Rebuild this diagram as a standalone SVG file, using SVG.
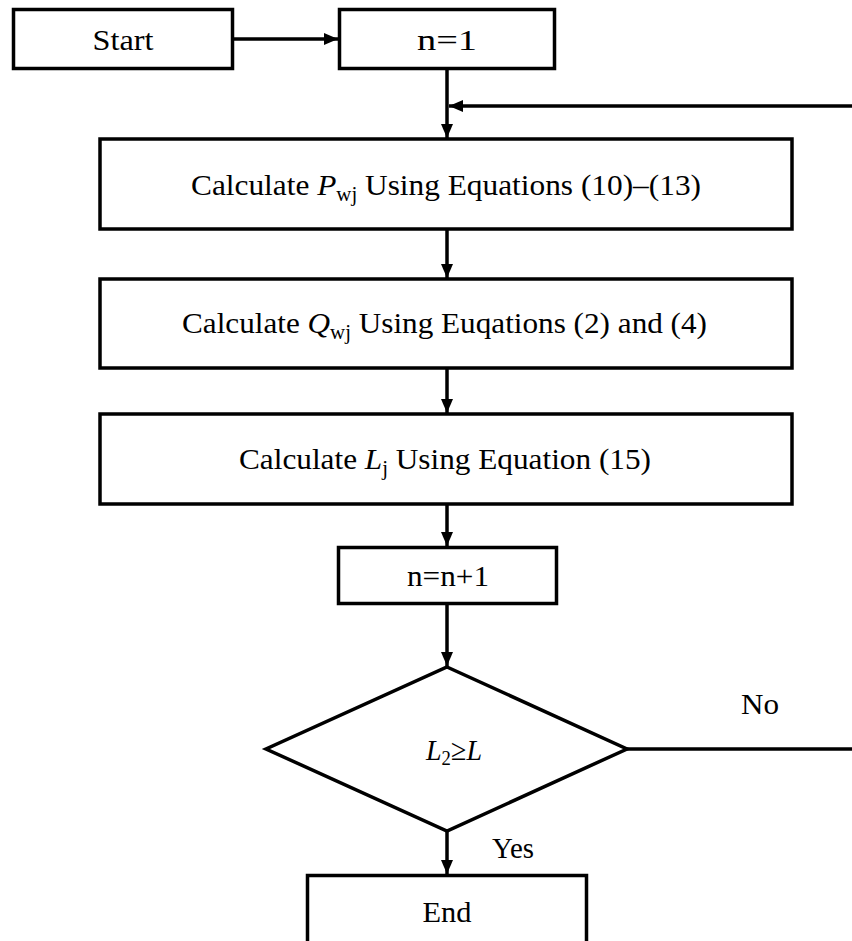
<svg xmlns="http://www.w3.org/2000/svg" width="852" height="941" viewBox="0 0 852 941">
<style>
  .box { fill: #fff; stroke: #000; stroke-width: 3.5; }
  .t { font-family: "Liberation Serif", "DejaVu Serif", serif; font-size: 30px; fill: #000; }
  .i { font-style: italic; }
  .sub { font-size: 20px; }
  .c { fill: none; stroke: #000; stroke-width: 3.5; }
</style>
<defs>
  <marker id="ah" markerUnits="userSpaceOnUse" markerWidth="15" markerHeight="14" refX="14" refY="7" orient="auto">
    <path d="M0,1 L14,7 L0,13 z" fill="#000"/>
  </marker>
</defs>
<rect width="852" height="941" fill="#fff"/>
<g id="connectors">
  <line class="c" x1="234" y1="39" x2="338" y2="39" marker-end="url(#ah)"/>
  <line class="c" x1="447" y1="69" x2="447" y2="138" marker-end="url(#ah)"/>
  <line class="c" x1="852" y1="106" x2="449" y2="106" marker-end="url(#ah)"/>
  <line class="c" x1="447" y1="229" x2="447" y2="278" marker-end="url(#ah)"/>
  <line class="c" x1="447" y1="368" x2="447" y2="413" marker-end="url(#ah)"/>
  <line class="c" x1="447" y1="504" x2="447" y2="546" marker-end="url(#ah)"/>
  <line class="c" x1="447" y1="603" x2="447" y2="666" marker-end="url(#ah)"/>
  <line class="c" x1="447" y1="831" x2="447" y2="874" marker-end="url(#ah)"/>
  <line class="c" x1="627" y1="749" x2="852" y2="749"/>
  <text class="t" x="741" y="714" textLength="38" lengthAdjust="spacingAndGlyphs">No</text>
  <text class="t" x="492" y="858" textLength="42" lengthAdjust="spacingAndGlyphs">Yes</text>
</g>
<g id="start">
  <rect class="box" x="13.5" y="9.5" width="219" height="59"/>
  <text class="t" x="123" y="50" text-anchor="middle" textLength="61" lengthAdjust="spacingAndGlyphs">Start</text>
</g>
<g id="init">
  <rect class="box" x="339.5" y="9.5" width="215" height="59"/>
  <text class="t" x="447" y="50" text-anchor="middle" textLength="60" lengthAdjust="spacingAndGlyphs">n=1</text>
</g>
<g id="calcP">
  <rect class="box" x="100" y="139" width="692" height="90"/>
  <text class="t" x="446" y="195" text-anchor="middle" textLength="510" lengthAdjust="spacingAndGlyphs">Calculate <tspan class="i">P</tspan><tspan class="sub" dy="6">wj</tspan><tspan dy="-6"> Using Equations (10)–(13)</tspan></text>
</g>
<g id="calcQ">
  <rect class="box" x="100" y="279" width="692" height="89"/>
  <text class="t" x="444.5" y="333" text-anchor="middle" textLength="525" lengthAdjust="spacingAndGlyphs">Calculate  <tspan class="i">Q</tspan><tspan class="sub" dy="6">wj</tspan><tspan dy="-6"> Using Euqations  (2) and (4)</tspan></text>
</g>
<g id="calcL">
  <rect class="box" x="100" y="414" width="692" height="90"/>
  <text class="t" x="445" y="469" text-anchor="middle" textLength="412" lengthAdjust="spacingAndGlyphs">Calculate <tspan class="i">L</tspan><tspan class="sub" dy="6">j</tspan><tspan dy="-6"> Using Equation (15)</tspan></text>
</g>
<g id="increment">
  <rect class="box" x="338.5" y="547.5" width="218" height="56"/>
  <text class="t" x="448" y="586" text-anchor="middle" textLength="82" lengthAdjust="spacingAndGlyphs">n=n+1</text>
</g>
<g id="decision">
  <polygon class="box" points="447,667 627,749 447,831 266,749"/>
  <text class="t" x="454" y="760" text-anchor="middle" font-size="28" textLength="56" lengthAdjust="spacingAndGlyphs"><tspan class="i">L</tspan><tspan class="sub" dy="5">2</tspan><tspan dy="-5">≥</tspan><tspan class="i">L</tspan></text>
</g>
<g id="end">
  <rect class="box" x="307.5" y="875.5" width="279" height="80"/>
  <text class="t" x="447" y="922" text-anchor="middle" textLength="49" lengthAdjust="spacingAndGlyphs">End</text>
</g>
</svg>
